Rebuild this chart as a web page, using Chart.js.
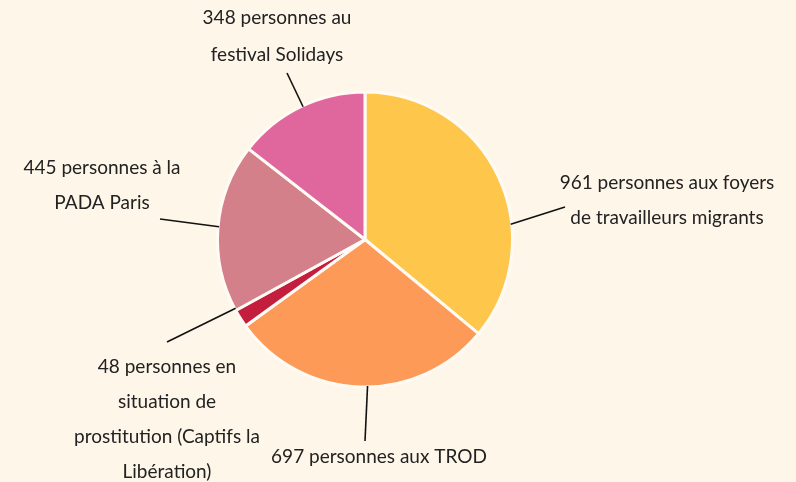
<!DOCTYPE html>
<html>
<head>
<meta charset="utf-8">
<script src="https://cdn.jsdelivr.net/npm/chart.js@4/dist/chart.umd.min.js"></script>
<style>
  html, body { margin: 0; padding: 0; background: #FFF6EA; }
  #wrap { width: 796px; height: 482px; }
</style>
</head>
<body>
<div id="wrap"><canvas id="c" width="796" height="482"></canvas></div>
<script>
// ---- data ----
const categories = [
  "961 personnes aux foyers de travailleurs migrants",
  "697 personnes aux TROD",
  "48 personnes en situation de prostitution (Captifs la Libération)",
  "445 personnes à la PADA Paris",
  "348 personnes au festival Solidays"
];
// slice sizes as drawn in the picture (the yellow slice is drawn smaller than its label)
const values = [866, 697, 48, 445, 348];
const labelLines = [
  ["961 personnes aux foyers", "de travailleurs migrants"],
  ["697 personnes aux TROD"],
  ["48 personnes en", "situation de", "prostitution (Captifs la", "Libération)"],
  ["445 personnes à la", "PADA Paris"],
  ["348 personnes au", "festival Solidays"]
];
const colors = ["#FEC64B", "#FE9A58", "#C31E3E", "#D4808A", "#E0669E"];

// ---- layout (label placement, not data) ----
const labelLayout = [
  { anchorDeg: 84,  end: [565, 207], text: [667, 183], lh: 35 },
  { anchorDeg: 179, end: [365, 441], text: [379, 457], lh: 35 },
  { anchorDeg: 242, end: [167, 342], text: [167, 367], lh: 35 },
  { anchorDeg: 275, end: [160, 219], text: [102, 168], lh: 35 },
  { anchorDeg: 335, end: [287, 73],  text: [277, 18],  lh: 37 }
];

const bg = "#FFF6EA";

const labelPlugin = {
  id: 'leaderLabels',
  afterDatasetsDraw(chart) {
    const ctx = chart.ctx;
    const meta = chart.getDatasetMeta(0);
    ctx.save();
    meta.data.forEach((arc, i) => {
      const p = arc.getProps(['x', 'y', 'outerRadius'], true);
      const L = labelLayout[i];
      const a = (L.anchorDeg - 90) * Math.PI / 180;
      const sx = p.x + Math.cos(a) * (p.outerRadius - 1);
      const sy = p.y + Math.sin(a) * (p.outerRadius - 1);
      ctx.beginPath();
      ctx.strokeStyle = "#111";
      ctx.lineWidth = 1.6;
      ctx.moveTo(sx, sy);
      ctx.lineTo(L.end[0], L.end[1]);
      ctx.stroke();
      ctx.fillStyle = "#222";
      ctx.font = "19px Lato";
      ctx.textAlign = "center";
      ctx.textBaseline = "middle";
      labelLines[i].forEach((t, k) => {
        ctx.fillText(t, L.text[0], L.text[1] + k * L.lh);
      });
    });
    ctx.restore();
  }
};

const bgPlugin = {
  id: 'bg',
  beforeDraw(chart) {
    const ctx = chart.ctx;
    ctx.save();
    ctx.fillStyle = bg;
    ctx.fillRect(0, 0, chart.width, chart.height);
    ctx.restore();
  }
};

new Chart(document.getElementById('c'), {
  type: 'pie',
  data: {
    labels: categories,
    datasets: [{
      data: values,
      backgroundColor: colors,
      borderColor: "#FFFBF4",
      borderWidth: 3,
      hoverOffset: 0
    }]
  },
  options: {
    responsive: false,
    animation: false,
    layout: { padding: { top: 90, bottom: 93, left: 216, right: 282 } },
    plugins: {
      legend: { display: false },
      tooltip: { enabled: false }
    }
  },
  plugins: [bgPlugin, labelPlugin]
});
</script>
</body>
</html>
